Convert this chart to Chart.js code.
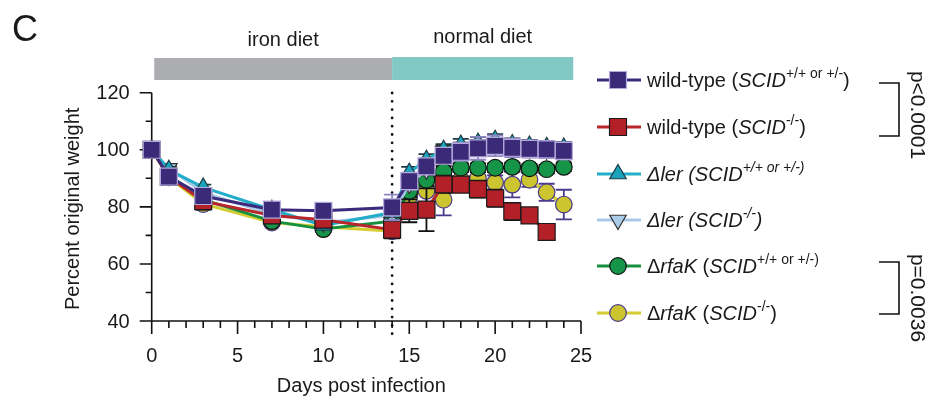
<!DOCTYPE html>
<html>
<head>
<meta charset="utf-8">
<script src="https://cdn.jsdelivr.net/npm/chart.js@4.4.0/dist/chart.umd.min.js"></script>
<style>
  html, body { margin: 0; padding: 0; background: #fff; }
  #wrap { width: 933px; height: 403px; }
</style>
</head>
<body>
<div id="wrap"><canvas id="c" width="933" height="403"></canvas></div>
<script>
// days post infection (shared x values)
var days = [0, 1, 3, 7, 10, 14, 15, 16, 17, 18, 19, 20, 21, 22, 23, 24];

// percent original weight
var wtHet    = [100, 90.6, 83.8, 79, 78.6, 79.8, 89, 94.2, 97.9, 99.3, 100.5, 101.4, 100.7, 100.3, 100.1, 99.6];
var wtHetErr = [0, 1, 1.5, 1.5, 1.2, 4.5, 3, 2.5, 2, 3.2, 4, 3.6, 3.3, 3, 3, 3];
var wtKo     = [100, 90.5, 82, 77, 75.5, 72, 78.6, 79, 87.9, 87.8, 86.2, 83, 78.4, 77, 71.2, null];
var wtKoErr  = [0, 1, 3, 1.5, 1.5, 3, 4, 7.5, 3, 2, 3, 3, 3, 1.5, 1, null];
var lerHet   = [100, 93, 86.8, 79, 73.5, 78, 92, 96.5, 100, 101.8, 102.5, 103.5, 102, 101.5, 101, 100.8];
var lerHetErr = [0, 1, 1, 1, 1, 1.5, 2, 2, 2, 2, 2, 2, 2, 2, 2, 2];
var lerKo    = [100, 93.5, 85, 77.5, 74.5, 77, 88, 93, 99.5, 100.5, 101.5, 102, 101, 100.5, 100, 100];
var lerKoErr = [0, 1, 1, 1, 1, 1.5, 2, 2, 2, 2, 2, 2, 2, 2, 2, 2];
var rfaHet   = [100, 91, 82.5, 75, 72.2, 75, 85.5, 89.4, 92.3, 93.7, 93.7, 93.7, 94, 93.5, 93.2, 94];
var rfaHetErr = [0, 1, 1, 1, 1, 1, 2, 2, 2, 1.5, 1.5, 1.5, 1.5, 1.5, 1.5, 1.5];
var rfaKo    = [100, 90.3, 81, 74.5, 73, 71.5, 83.5, 85.6, 82.5, 89.5, 90, 88.5, 87.8, 89.5, 85.1, 80.8];
var rfaKoErr = [0, 1, 1.5, 1, 1, 1, 3, 4, 5.5, 3, 2.5, 2.5, 4.5, 2.5, 3, 5.2];

// axis ticks
var xTicks = [0, 5, 10, 15, 20, 25];
var yTicks = [40, 60, 80, 100, 120];
var dietSwitchDay = 14;

// legend labels (rich text segments)
var legendLabels = [
  [{t: 'wild-type ('}, {t: 'SCID', it: 1}, {t: '+/+ or +/-', sup: 1}, {t: ')'}],
  [{t: 'wild-type ('}, {t: 'SCID', it: 1}, {t: '-/-', sup: 1}, {t: ')'}],
  [{t: '\u0394ler (SCID', it: 1}, {t: '+/+ or +/-)', sup: 1, it: 1}],
  [{t: '\u0394ler (SCID', it: 1}, {t: '-/-', sup: 1, it: 1}, {t: ')', it: 1}],
  [{t: '\u0394'}, {t: 'rfaK', it: 1}, {t: ' ('}, {t: 'SCID', it: 1}, {t: '+/+ or +/-)', sup: 1}],
  [{t: '\u0394'}, {t: 'rfaK', it: 1}, {t: ' ('}, {t: 'SCID', it: 1}, {t: '-/-', sup: 1}, {t: ')'}]
];

var FONT = '"Liberation Sans", Arial, Helvetica, sans-serif';

function pts(vals) {
  var out = [];
  vals.forEach(function(v, i) { if (v != null) out.push({ x: days[i], y: v }); });
  return out;
}

function mkSet(vals, err, line, fill, edge, style, radius, rot, errColor) {
  return {
    data: pts(vals), err: err, errColor: errColor,
    borderColor: line, borderWidth: 3,
    pointBackgroundColor: fill, pointBorderColor: edge, pointBorderWidth: 1.2,
    pointStyle: style, pointRadius: radius, pointRotation: rot || 0,
    pointHoverRadius: radius, tension: 0, clip: false
  };
}

var sets = [
  mkSet(wtHet, wtHetErr, '#3c2a7c', '#3b2a78', '#b3aadc', 'rect', 12, 0, '#8f85c4'),
  mkSet(wtKo, wtKoErr, '#b8262c', '#b32027', '#1a1a1a', 'rect', 12, 0, '#111'),
  mkSet(lerHet, lerHetErr, '#22adc8', '#1ba3bc', '#1d3a44', 'triangle', 9.5, 0, '#1d3a44'),
  mkSet(lerKo, lerKoErr, '#a8c9e7', '#a9cce9', '#333', 'triangle', 9.5, 180, '#333'),
  mkSet(rfaHet, rfaHetErr, '#16903f', '#169447', '#111', 'circle', 8.3, 0, '#111'),
  mkSet(rfaKo, rfaKoErr, '#d4cc33', '#cdc52f', '#4b3a8c', 'circle', 8.3, 0, '#4b3a8c')
];

function drawRich(ctx, x, y, segs, size) {
  ctx.textBaseline = 'middle';
  ctx.textAlign = 'left';
  segs.forEach(function(s) {
    var fs = s.sup ? Math.round(size * 0.72) : size;
    ctx.font = (s.it ? 'italic ' : '') + fs + 'px ' + FONT;
    var dy = s.sup ? -size * 0.36 : 0;
    ctx.fillText(s.t, x, y + dy);
    x += ctx.measureText(s.t).width;
  });
}

function marker(ctx, ds, x, y) {
  var r = ds.pointRadius;
  ctx.save();
  ctx.fillStyle = ds.pointBackgroundColor;
  ctx.strokeStyle = ds.pointBorderColor;
  ctx.lineWidth = ds.pointBorderWidth;
  ctx.beginPath();
  if (ds.pointStyle === 'rect') {
    var s = r * Math.SQRT1_2;
    ctx.rect(x - s, y - s, 2 * s, 2 * s);
  } else if (ds.pointStyle === 'circle') {
    ctx.arc(x, y, r, 0, Math.PI * 2);
  } else {
    var dir = ds.pointRotation ? -1 : 1;
    ctx.moveTo(x, y - dir * r);
    ctx.lineTo(x + r * 0.866, y + dir * r * 0.5);
    ctx.lineTo(x - r * 0.866, y + dir * r * 0.5);
    ctx.closePath();
  }
  ctx.fill();
  ctx.stroke();
  ctx.restore();
}

var decor = {
  id: 'decor',
  beforeDatasetsDraw: function(chart) {
    var ctx = chart.ctx, xs = chart.scales.x, ys = chart.scales.y;
    var x0 = xs.getPixelForValue(0), y0 = ys.getPixelForValue(40);
    var x1 = xs.getPixelForValue(25), yTop = ys.getPixelForValue(120);
    ctx.save();
    ctx.strokeStyle = '#111';
    ctx.lineWidth = 1.6;
    ctx.lineCap = 'butt';
    // axis lines
    ctx.beginPath();
    ctx.moveTo(x0, yTop); ctx.lineTo(x0, y0);
    ctx.moveTo(x0, y0); ctx.lineTo(x1, y0);
    // y ticks (major every 20, minor every 10)
    for (var v = 40; v <= 120; v += 10) {
      var py = ys.getPixelForValue(v);
      var len = v % 20 === 0 ? 12 : 6;
      ctx.moveTo(x0 - len, py); ctx.lineTo(x0, py);
    }
    // x ticks (major every 5, minor every day)
    for (var d = 0; d <= 25; d++) {
      var px = xs.getPixelForValue(d);
      var l = d % 5 === 0 ? 13 : 7;
      ctx.moveTo(px, y0); ctx.lineTo(px, y0 + l);
    }
    ctx.stroke();

    // tick labels
    ctx.fillStyle = '#1a1a1a';
    ctx.font = '20px ' + FONT;
    ctx.textAlign = 'right';
    ctx.textBaseline = 'middle';
    yTicks.forEach(function(t) { ctx.fillText(String(t), x0 - 22, ys.getPixelForValue(t) + 1); });
    ctx.textAlign = 'center';
    ctx.textBaseline = 'middle';
    xTicks.forEach(function(t) { ctx.fillText(String(t), xs.getPixelForValue(t), y0 + 35); });

    // axis titles
    ctx.font = '20px ' + FONT;
    ctx.fillText('Days post infection', (x0 + x1) / 2 - 5, 386);
    ctx.save();
    ctx.translate(73, (yTop + y0) / 2 + 2);
    ctx.rotate(-Math.PI / 2);
    ctx.fillText('Percent original weight', 0, 0);
    ctx.restore();

    // dotted line at diet switch
    var dx = xs.getPixelForValue(dietSwitchDay);
    ctx.beginPath();
    ctx.setLineDash([0, 8.3]);
    ctx.lineCap = 'round';
    ctx.lineWidth = 2.8;
    ctx.moveTo(dx, 93); ctx.lineTo(dx, 334);
    ctx.stroke();
    ctx.setLineDash([]);

    // diet bars
    var gx0 = xs.getPixelForValue(0.15), gx1 = dx, tx1 = xs.getPixelForValue(24.55);
    ctx.fillStyle = '#acadb0';
    ctx.fillRect(gx0, 58, gx1 - gx0, 22);
    ctx.fillStyle = '#82c9c5';
    ctx.fillRect(gx1, 57, tx1 - gx1, 23);
    ctx.fillStyle = '#1a1a1a';
    ctx.font = '20px ' + FONT;
    ctx.textAlign = 'center';
    ctx.textBaseline = 'middle';
    ctx.fillText('iron diet', (gx0 + gx1) / 2 + 10, 40);
    ctx.fillText('normal diet', (gx1 + tx1) / 2, 37);

    // panel letter
    ctx.textAlign = 'left';
    ctx.font = '36px ' + FONT;
    ctx.fillText('C', 12, 31);
    ctx.restore();
  },
  beforeDatasetDraw: function(chart, args) {
    var ds = chart.data.datasets[args.index];
    var ctx = chart.ctx, xs = chart.scales.x, ys = chart.scales.y;
    ctx.save();
    ctx.strokeStyle = ds.errColor;
    ctx.lineWidth = 1.8;
    ctx.beginPath();
    ds.data.forEach(function(p) {
      var e = ds.err[days.indexOf(p.x)];
      if (!e) return;
      var px = xs.getPixelForValue(p.x);
      var a = ys.getPixelForValue(p.y + e), b = ys.getPixelForValue(p.y - e);
      ctx.moveTo(px, a); ctx.lineTo(px, b);
      ctx.moveTo(px - 8, a); ctx.lineTo(px + 8, a);
      ctx.moveTo(px - 8, b); ctx.lineTo(px + 8, b);
    });
    ctx.stroke();
    ctx.restore();
  },
  afterDraw: function(chart) {
    var ctx = chart.ctx;
    var rows = [80, 127, 174, 220, 266, 313];
    ctx.save();
    chart.data.datasets.forEach(function(ds, i) {
      var y = rows[i];
      ctx.strokeStyle = ds.borderColor;
      ctx.lineWidth = 3;
      ctx.beginPath();
      ctx.moveTo(597, y); ctx.lineTo(641, y);
      ctx.stroke();
      marker(ctx, ds, 618, y);
      ctx.fillStyle = '#1a1a1a';
      drawRich(ctx, 647, y + 1, legendLabels[i], 20);
    });
    // significance brackets
    ctx.strokeStyle = '#111';
    ctx.lineWidth = 1.6;
    ctx.beginPath();
    ctx.moveTo(879, 83); ctx.lineTo(899, 83); ctx.lineTo(899, 136); ctx.lineTo(879, 136);
    ctx.moveTo(879, 262); ctx.lineTo(899, 262); ctx.lineTo(899, 314); ctx.lineTo(879, 314);
    ctx.stroke();
    ctx.fillStyle = '#1a1a1a';
    ctx.font = '21px ' + FONT;
    ctx.textAlign = 'center';
    ctx.textBaseline = 'middle';
    ctx.save();
    ctx.translate(917, 115);
    ctx.rotate(Math.PI / 2);
    ctx.fillText('p<0.0001', 0, 0);
    ctx.restore();
    ctx.save();
    ctx.translate(917, 298);
    ctx.rotate(Math.PI / 2);
    ctx.fillText('p=0.0036', 0, 0);
    ctx.restore();
    ctx.restore();
  }
};

new Chart(document.getElementById('c'), {
  type: 'line',
  data: { datasets: sets },
  options: {
    responsive: false,
    animation: false,
    devicePixelRatio: 1,
    layout: { padding: { left: 151.7, right: 352, top: 92.7, bottom: 82 } },
    scales: {
      x: { type: 'linear', min: 0, max: 25, display: false },
      y: { min: 40, max: 120, display: false }
    },
    plugins: { legend: { display: false }, tooltip: { enabled: false } }
  },
  plugins: [decor]
});
</script>
</body>
</html>
